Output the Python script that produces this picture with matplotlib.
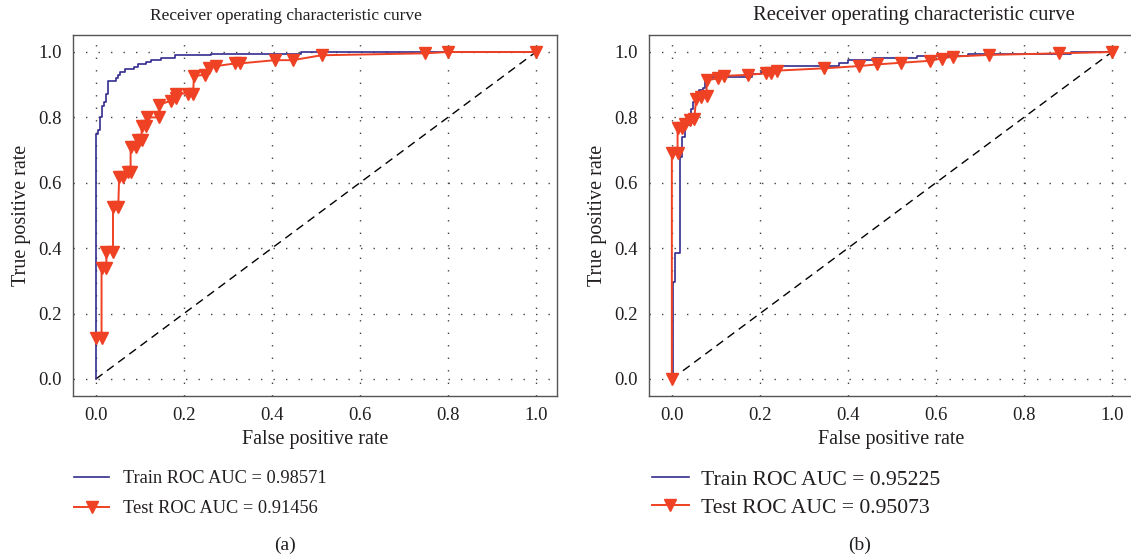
"""Two ROC panels (train vs test) with legends under each axes."""

import matplotlib
matplotlib.use("Agg")
from matplotlib import pyplot as plt

plt.rcParams["font.family"] = ["Liberation Serif", "DejaVu Serif"]

# ---- panel (a) ----
a_train_fpr = [0.0, 0.0, 0.005, 0.009, 0.013, 0.018, 0.023, 0.028, 0.045, 0.051,
               0.056, 0.066, 0.086, 0.095, 0.115, 0.125, 0.148, 0.180, 0.261,
               0.466, 1.0]
a_train_tpr = [0.0, 0.749, 0.761, 0.800, 0.835, 0.848, 0.873, 0.912, 0.922, 0.931,
               0.940, 0.949, 0.955, 0.963, 0.970, 0.977, 0.983, 0.990, 0.995,
               1.0, 1.0]

a_test_fpr = [0.0, 0.013, 0.013, 0.024, 0.024, 0.039, 0.039, 0.051, 0.053, 0.062,
              0.073, 0.079, 0.079, 0.091, 0.096, 0.104, 0.104, 0.115, 0.117, 0.143,
              0.143, 0.170, 0.183, 0.183, 0.210, 0.221, 0.223, 0.248, 0.257, 0.274,
              0.316, 0.327, 0.407, 0.447, 0.513, 0.749, 0.800, 1.0]
a_test_tpr = [0.125, 0.125, 0.340, 0.340, 0.389, 0.389, 0.527, 0.527, 0.619, 0.619,
              0.634, 0.634, 0.710, 0.710, 0.731, 0.731, 0.774, 0.774, 0.800, 0.800,
              0.838, 0.851, 0.858, 0.873, 0.873, 0.873, 0.927, 0.930, 0.950, 0.957,
              0.965, 0.965, 0.975, 0.975, 0.990, 0.996, 1.0, 1.0]

# ---- panel (b) ----
b_train_fpr = [0.0, 0.003, 0.0075, 0.018, 0.024, 0.030, 0.043, 0.048, 0.055, 0.062,
               0.070, 0.075, 0.092, 0.183, 0.202, 0.232, 0.244, 0.380, 0.400,
               0.456, 0.558, 0.672, 0.907, 1.0]
b_train_tpr = [0.0, 0.298, 0.386, 0.678, 0.741, 0.777, 0.825, 0.848, 0.863, 0.884,
               0.889, 0.917, 0.924, 0.934, 0.940, 0.950, 0.957, 0.965, 0.976,
               0.983, 0.989, 0.995, 1.0, 1.0]

b_test_fpr = [0.0, 0.0, 0.013, 0.013, 0.022, 0.030, 0.042, 0.051, 0.055, 0.066,
              0.079, 0.079, 0.105, 0.119, 0.173, 0.213, 0.226, 0.239, 0.345, 0.426,
              0.466, 0.520, 0.586, 0.613, 0.640, 0.720, 0.880, 1.0]
b_test_tpr = [0.0, 0.690, 0.690, 0.769, 0.769, 0.781, 0.792, 0.795, 0.855, 0.861,
              0.865, 0.914, 0.919, 0.927, 0.930, 0.935, 0.937, 0.943, 0.950, 0.957,
              0.962, 0.967, 0.973, 0.980, 0.986, 0.991, 0.996, 1.0]

panels = [
    ("(a)", a_train_fpr, a_train_tpr, a_test_fpr, a_test_tpr, "0.98571", "0.91456"),
    ("(b)", b_train_fpr, b_train_tpr, b_test_fpr, b_test_tpr, "0.95225", "0.95073"),
]

BLUE = "#332c8f"
RED = "#ef4123"
TXT = "#231f20"

fig = plt.figure(figsize=(11.31, 5.59), dpi=100)

# per-panel layout: axes left, title x (axes frac), title size, legend style, tag x
layout = [
    dict(left=0.0645, title_x=0.44, title_fs=12.5, leg_fs=13.2, hl=1.9,
         htp=0.75, ls=0.72, leg_y=-0.185, tag_x=0.252),
    dict(left=0.5738, title_x=0.548, title_fs=14.9, leg_fs=15.6, hl=1.7,
         htp=0.55, ls=0.36, leg_y=-0.18, tag_x=0.760),
]

for lay, (tag, trf, trt, tef, tet, auc_tr, auc_te) in zip(layout, panels):
    ax = fig.add_axes([lay["left"], 0.2916, 0.428, 0.6458])
    ax.plot([0, 1], [0, 1], color="black", lw=1.0, ls=(0, (6, 4)), zorder=2)
    ax.plot(trf, trt, color=BLUE, lw=1.2, drawstyle="steps-post", zorder=3,
            label=f"Train ROC AUC = {auc_tr}")
    ax.plot(tef, tet, color=RED, lw=1.4, marker="v", markersize=9,
            markeredgecolor=RED, zorder=4, label=f"Test ROC AUC = {auc_te}")

    ax.set(xlim=(-0.052, 1.048), ylim=(-0.052, 1.052),
           xticks=[0, 0.2, 0.4, 0.6, 0.8, 1.0],
           yticks=[0, 0.2, 0.4, 0.6, 0.8, 1.0])
    ax.set_xticklabels(["0.0", "0.2", "0.4", "0.6", "0.8", "1.0"])
    ax.set_yticklabels(["0.0", "0.2", "0.4", "0.6", "0.8", "1.0"])
    ax.grid(True, color="#444444", lw=1.0, ls=(0, (1, 8)))
    ax.tick_params(length=0, pad=8, labelsize=13.5, colors=TXT)
    for s in ax.spines.values():
        s.set_color("#555555")
        s.set_linewidth(1.0)

    ax.set_title("Receiver operating characteristic curve", fontsize=lay["title_fs"],
                 color=TXT, pad=11, x=lay["title_x"])
    ax.set_xlabel("False positive rate", fontsize=14.5, color=TXT, labelpad=4)
    ax.set_ylabel("True positive rate", fontsize=14.5, color=TXT, labelpad=5)

    ax.legend(loc="upper left", bbox_to_anchor=(-0.012, lay["leg_y"]), frameon=False,
              fontsize=lay["leg_fs"], handlelength=lay["hl"],
              handletextpad=lay["htp"], labelspacing=lay["ls"],
              borderaxespad=0, labelcolor=TXT)

    fig.text(lay["tag_x"], 0.017, tag, fontsize=14, color=TXT, ha="center")

fig.savefig("out.png", dpi=100)
